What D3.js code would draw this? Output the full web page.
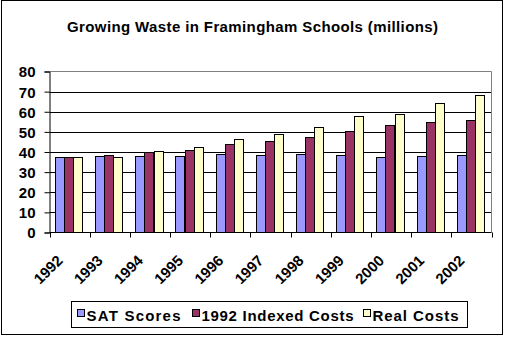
<!DOCTYPE html>
<html><head><meta charset="utf-8">
<script src="https://cdn.jsdelivr.net/npm/d3@7"></script>
<style>
html,body{margin:0;padding:0;background:#fff;}
svg{display:block;font-family:"Liberation Sans",Arial,sans-serif;}
</style></head>
<body>
<svg id="c" width="507" height="337"></svg>
<script>
const years = ["1992","1993","1994","1995","1996","1997","1998","1999","2000","2001","2002"];
const seriesNames = ["SAT Scores","1992 Indexed Costs","Real Costs"];
const satScores   = [37.5, 38, 38, 38, 39, 38.5, 39, 38.5, 37.5, 38, 38.5];
const indexedCosts= [37.5, 38.5, 40, 41, 44, 45.5, 47.5, 50.5, 53.5, 55, 56];
const realCosts   = [37.5, 37.5, 40.5, 42.5, 46.5, 49, 52.5, 58, 59, 64.5, 68.5];
const yTicks = [0,10,20,30,40,50,60,70,80];
const colors = ["#9999FF","#993366","#FFFFCC"];
const title = "Growing Waste in Framingham Schools (millions)";

const svg = d3.select("#c");
const L=49.5, R=491.5, T=71.5, B=232.5;
const FS = 15;

// outer border
svg.append("rect").attr("x",1.5).attr("y",0.5).attr("width",501).attr("height",334)
  .attr("fill","#fff").attr("stroke","#000").attr("stroke-width",1);

svg.append("text").attr("x",67).attr("y",32)
  .attr("font-size",FS).attr("font-weight","bold").attr("textLength",371).attr("lengthAdjust","spacing")
  .attr("fill","#000").text(title);

const x = d3.scaleBand().domain(years).range([L,R]).padding(0);
const xs = d3.scaleBand().domain(seriesNames).range([0,x.bandwidth()]).paddingInner(0).paddingOuter(0.7);
const y = d3.scaleLinear().domain([0,80]).range([B,T]);

// gridlines
svg.append("g").selectAll("line").data(yTicks.filter(t=>t>0&&t<80)).join("line")
  .attr("x1",L).attr("x2",R).attr("y1",d=>Math.round(y(d))+0.5).attr("y2",d=>Math.round(y(d))+0.5)
  .attr("stroke","#000");
// plot border (top & right gray)
svg.append("path").attr("d",`M${L},${T}H${R}V${B}`).attr("fill","none").attr("stroke","#808080");

const data = years.map((yr,i)=>({year:yr, vals:[satScores[i],indexedCosts[i],realCosts[i]]}));
const g = svg.append("g");
data.forEach(d=>{
  d.vals.forEach((v,j)=>{
    const x0 = Math.round(x(d.year)+xs(seriesNames[j]))-0.5;
    const w = Math.round(xs.bandwidth());
    const y0 = Math.round(y(v))+0.5;
    g.append("rect").attr("x",x0).attr("y",y0).attr("width",w).attr("height",B-y0)
      .attr("fill",colors[j]).attr("stroke","#000").attr("stroke-width",1);
  });
});

// y axis
const ya = svg.append("g").attr("transform",`translate(${L},0)`)
  .call(d3.axisLeft(y).tickValues(yTicks).tickSize(5).tickPadding(9).tickFormat(d3.format("d")));
ya.select(".domain").attr("stroke","#000");
ya.selectAll("line").attr("stroke","#000");
ya.selectAll("text").attr("font-size",FS).attr("font-weight","bold")
  .attr("font-family","Liberation Sans, Arial, sans-serif").attr("fill","#000").attr("dy","0.36em");

// x axis
svg.append("line").attr("x1",L).attr("x2",R).attr("y1",B).attr("y2",B).attr("stroke","#000");
const bounds = years.map(yv=>x(yv)).concat([R]);
svg.append("g").selectAll("line").data(bounds).join("line")
  .attr("x1",d=>Math.round(d)+0.5).attr("x2",d=>Math.round(d)+0.5).attr("y1",B).attr("y2",B+5).attr("stroke","#000");
svg.append("g").selectAll("text").data(years).join("text")
  .attr("transform",d=>`translate(${x(d)+x.bandwidth()/2-6},${B+29}) rotate(-45)`)
  .attr("text-anchor","end").attr("font-size",FS).attr("font-weight","bold").attr("fill","#000").text(d=>d);

// legend
const lg = svg.append("g");
lg.append("rect").attr("x",71.5).attr("y",301.5).attr("width",396).attr("height",26).attr("fill","#fff").attr("stroke","#000");
const lx = [77.5,192.5,363.5];
const lw = [94,152,86];
seriesNames.forEach((s,j)=>{
  lg.append("rect").attr("x",lx[j]).attr("y",309.5).attr("width",7).attr("height",7).attr("fill",colors[j]).attr("stroke","#000");
  lg.append("text").attr("x",lx[j]+9).attr("y",320.5).attr("font-size",FS).attr("font-weight","bold")
    .attr("textLength",lw[j]).attr("lengthAdjust","spacing").attr("fill","#000").text(s);
});
</script>
</body></html>
